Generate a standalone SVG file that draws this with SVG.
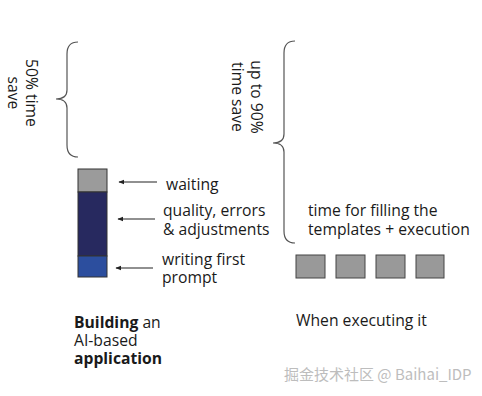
<svg xmlns="http://www.w3.org/2000/svg" width="482" height="396" viewBox="0 0 482 396">
<defs>
<style>
.t{font-family:"Open Sans","Noto Sans","DejaVu Sans",sans-serif;font-size:15.7px;fill:#1a1a1a}
.b{font-weight:bold}
.brace{fill:none;stroke:#555;stroke-width:1.2}
.arr{stroke:#222;stroke-width:1.2;fill:none;marker-end:url(#ah)}
.sq{fill:#999;stroke:#444;stroke-width:1}
.wm{font-family:"Noto Sans CJK SC","Noto Sans",sans-serif;font-size:15px;fill:#bdbdbd}
</style>
<marker id="ah" viewBox="0 0 10 10" refX="9" refY="5" markerWidth="6" markerHeight="6" orient="auto" markerUnits="userSpaceOnUse">
<path d="M0,1 L10,5 L0,9 z" fill="#222"/>
</marker>
</defs>
<rect width="482" height="396" fill="#ffffff"/>

<g id="left-brace">
<path class="brace" d="M78,42 Q67,42 67,54 L67,90 Q67,99 56,99 Q67,99 67,108 L67,145 Q67,157 78,157"/>
</g>
<g id="left-brace-label">
<text class="t" transform="translate(26,93) rotate(90)" text-anchor="middle"><tspan x="0" y="0">50% time</tspan><tspan x="0" y="18">save</tspan></text>
</g>

<g id="bar">
<rect x="78" y="169" width="29" height="23" fill="#9b9b9b" stroke="#333" stroke-width="1"/>
<rect x="78" y="192" width="29" height="64" fill="#27295f" stroke="#333" stroke-width="1"/>
<rect x="78" y="256" width="29" height="21" fill="#2c4e9e" stroke="#333" stroke-width="1"/>
</g>

<g id="connectors">
<line class="arr" x1="157" y1="182" x2="119" y2="182"/>
<line class="arr" x1="155" y1="219" x2="118" y2="219"/>
<line class="arr" x1="153" y1="268" x2="116" y2="268"/>
</g>

<g id="label-waiting"><text class="t" x="166" y="190">waiting</text></g>
<g id="label-quality"><text class="t" x="163" y="216">quality, errors<tspan x="163" y="235">&amp; adjustments</tspan></text></g>
<g id="label-writing"><text class="t" x="162" y="265">writing first<tspan x="162" y="283">prompt</tspan></text></g>

<g id="right-brace">
<path class="brace" d="M295,41 Q284,41 284,53 L284,134 Q284,143 273,143 Q284,143 284,152 L284,231 Q284,243 295,243"/>
</g>
<g id="right-brace-label">
<text class="t" transform="translate(251,97) rotate(90)" text-anchor="middle"><tspan x="0" y="0">up to 90%</tspan><tspan x="0" y="19">time save</tspan></text>
</g>

<g id="label-templates"><text class="t" x="308" y="216">time for filling the<tspan x="308" y="235">templates + execution</tspan></text></g>

<g id="squares">
<rect class="sq" x="296" y="255" width="29" height="23"/>
<rect class="sq" x="336" y="255" width="29" height="23"/>
<rect class="sq" x="376" y="255" width="29" height="23"/>
<rect class="sq" x="416" y="255" width="28" height="23"/>
</g>

<g id="label-building"><text class="t" x="74" y="328"><tspan class="b">Building</tspan> an<tspan x="74" y="346">AI-based</tspan><tspan x="74" y="364" class="b">application</tspan></text></g>
<g id="label-executing"><text class="t" x="296" y="326">When executing it</text></g>

<text class="wm" x="284" y="380">掘金技术社区 @ Baihai_IDP</text>
</svg>
